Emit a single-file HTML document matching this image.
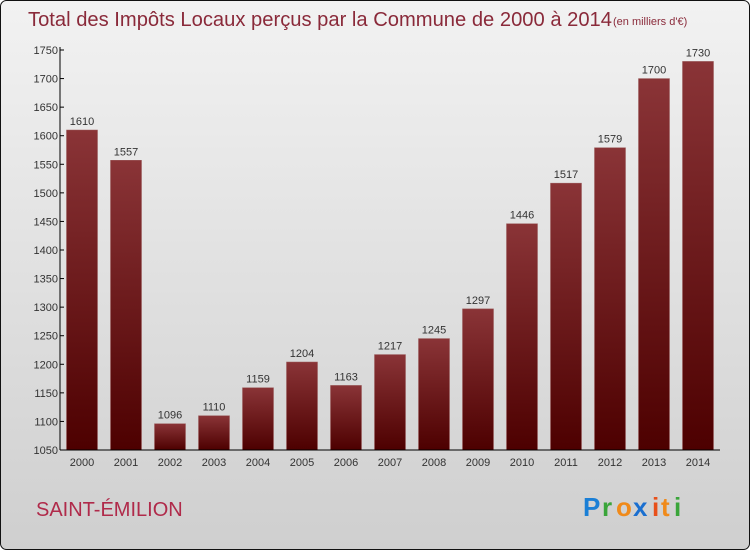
<!DOCTYPE html>
<html><head><meta charset="utf-8"><style>
html,body{margin:0;padding:0;}
body{width:750px;height:550px;overflow:hidden;font-family:"Liberation Sans",sans-serif;}
</style></head><body>
<svg width="750" height="550" xmlns="http://www.w3.org/2000/svg">
<defs>
<linearGradient id="bg" x1="0" y1="0" x2="0" y2="1"><stop offset="0" stop-color="#f2f2f2"/><stop offset="1" stop-color="#cfcfcf"/></linearGradient>
<linearGradient id="bar" x1="0" y1="0" x2="0" y2="1"><stop offset="0" stop-color="#8a3437"/><stop offset="1" stop-color="#4d0000"/></linearGradient>
</defs>
<rect x="0.5" y="0.5" width="749" height="549" rx="6" fill="url(#bg)" stroke="#111"/>
<text x="28" y="26" font-size="20" fill="#8a2a3a" textLength="584" lengthAdjust="spacingAndGlyphs">Total des Impôts Locaux perçus par la Commune de 2000 à 2014</text>
<text x="613" y="25" font-size="11" fill="#8a2a3a">(en milliers d'€)</text>
<g id="plot"></g>
<text x="36" y="516" font-size="20" fill="#b02a4a">SAINT-ÉMILION</text>
<g font-size="26" font-weight="bold">
<text x="583" y="516" fill="#1a7fd6">P</text><text x="602" y="516" fill="#3aa53a">r</text><text x="616" y="516" fill="#f08a1a">o</text><text x="633" y="516" fill="#1a6fd0">x</text><text x="652" y="516" fill="#e8501a">i</text><text x="661" y="516" fill="#f08a1a">t</text><text x="674" y="516" fill="#3aa53a">i</text>
</g>
</svg>
<script>
const years=["2000","2001","2002","2003","2004","2005","2006","2007","2008","2009","2010","2011","2012","2013","2014"];
const values=[1610,1557,1096,1110,1159,1204,1163,1217,1245,1297,1446,1517,1579,1700,1730];
const yTicks=[1050,1100,1150,1200,1250,1300,1350,1400,1450,1500,1550,1600,1650,1700,1750];
const NS="http://www.w3.org/2000/svg";
const g=document.getElementById('plot');
const y0=450,yTop=50,vMin=1050,vMax=1750,xL=60,xR=720;
const y=v=>y0-(v-vMin)*(y0-yTop)/(vMax-vMin);
const step=44,x=i=>82+i*step,bw=31;
function el(t,a,txt){const e=document.createElementNS(NS,t);for(const k in a)e.setAttribute(k,a[k]);if(txt!==undefined)e.textContent=txt;g.appendChild(e);return e;}
values.forEach((v,i)=>{
 const r=el('rect',{x:x(i)-bw/2,y:y(v),width:bw,height:y0-y(v),fill:'url(#bar)',stroke:'#9a5a5a','stroke-width':0.5});
 
 
 const t=el('text',{x:x(i),y:y(v)-5,'text-anchor':'middle','font-size':11,fill:'#333'},String(v));
 
 
 const l=el('text',{x:x(i),y:466,'text-anchor':'middle','font-size':11,fill:'#333'},years[i]);
 
 
});
yTicks.forEach(v=>{
 const tk=el('line',{x1:xL,x2:xL+4,y1:y(v),y2:y(v),stroke:'#000'});
 
 
 const t=el('text',{x:xL-2,y:y(v)+4,'text-anchor':'end','font-size':11,fill:'#333'},String(v));
 
 
});
const ya=el('line',{x1:xL,x2:xL,y1:yTop-3,y2:y0,stroke:'#000'});


const xa=el('line',{x1:xL,x2:xR,y1:y0,y2:y0,stroke:'#000'});


</script>
</body></html>
